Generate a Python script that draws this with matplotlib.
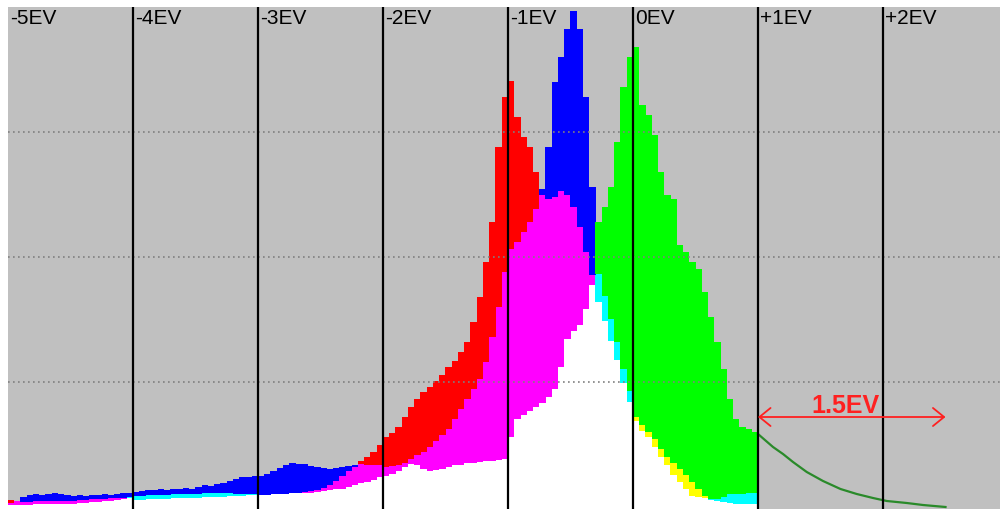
import numpy as np
import matplotlib
matplotlib.use("Agg")
import matplotlib.pyplot as plt

plt.rcParams['font.family'] = ['Liberation Sans', 'DejaVu Sans']

# --- histogram data: 0.05 EV bins from -5EV to +1EV ---
bin_start = -5.0
bin_width = 0.05

red = [
    7, 6, 5, 5, 6, 6, 6, 6, 6, 6, 6, 7, 7, 8, 8, 8, 9, 9, 9, 9,
    7, 7, 8, 8, 8, 8, 9, 9, 9, 9, 9, 10, 10, 10, 10, 11, 11, 11, 12, 12,
    12, 12, 13, 13, 13, 14, 14, 15, 16, 17, 19, 22, 26, 31, 36, 40, 46, 50, 55, 62,
    70, 74, 80, 90, 100, 108, 115, 120, 126, 132, 140, 146, 155, 165, 185, 210, 245, 285, 360, 410,
    426, 390, 370, 360, 335, 312, 308, 310, 316, 312, 300, 280, 255, 232, 205, 186, 166, 147, 124, 105,
    90, 82, 75, 68, 58, 50, 44, 38, 32, 25, 18, 11, 7, 6, 5, 4, 3, 3, 3, 3,
]
green = [
    2, 2, 2, 2, 3, 3, 3, 3, 3, 3, 3, 4, 4, 5, 5, 6, 6, 7, 8, 10,
    11, 11, 12, 12, 12, 12, 13, 13, 13, 13, 13, 14, 14, 14, 14, 14, 13, 13, 13, 13,
    12, 12, 13, 13, 13, 14, 14, 14, 14, 15, 16, 17, 18, 18, 20, 22, 24, 25, 27, 30,
    31, 33, 36, 40, 43, 42, 38, 36, 37, 38, 40, 42, 42, 44, 44, 45, 46, 46, 47, 48,
    70, 88, 92, 96, 100, 104, 110, 118, 140, 168, 176, 182, 198, 222, 285, 300, 320, 365, 420, 450,
    460, 402, 392, 372, 335, 312, 308, 262, 255, 245, 238, 215, 190, 165, 138, 108, 88, 80, 78, 75,
]
blue = [
    4, 6, 10, 12, 13, 12, 13, 14, 13, 12, 11, 12, 11, 12, 12, 13, 12, 13, 14, 14,
    15, 16, 17, 17, 18, 17, 18, 18, 19, 18, 20, 22, 21, 23, 24, 26, 28, 30, 30, 31,
    31, 33, 36, 39, 42, 44, 43, 43, 41, 40, 39, 38, 39, 40, 41, 42, 43, 42, 42, 42,
    40, 41, 42, 44, 48, 52, 55, 60, 66, 72, 78, 88, 98, 108, 118, 128, 145, 170, 200, 235,
    258, 265, 275, 285, 298, 318, 360, 425, 450, 478, 496, 478, 410, 320, 233, 211, 188, 165, 138, 116,
    86, 76, 70, 60, 50, 42, 32, 25, 18, 11, 10, 9, 8, 8, 10, 13, 13, 13, 14, 14,
]

# extrapolated green tail past +1EV
tail_ev = [1.0, 1.12, 1.2, 1.28, 1.39, 1.52, 1.66, 1.79, 1.92, 2.03, 2.19, 2.32, 2.5]
tail_h = [73, 60, 53, 45, 35, 26, 18, 13, 9, 6, 4, 2, 0]

ev_stops = [-5, -4, -3, -2, -1, 0, 1, 2]
ev_labels = ["-5EV", "-4EV", "-3EV", "-2EV", "-1EV", "0EV", "+1EV", "+2EV"]
span_text = "1.5EV"
span_from, span_to = 1.0, 2.5

fig = plt.figure(figsize=(10, 5.1), dpi=100, facecolor="white")
ax = fig.add_axes([0.008, 0.0, 0.992, 502 / 510])
ax.set_facecolor("#c0c0c0")
ax.set_xlim(-5, -5 + 992 / 125)
ax.set_ylim(-2, 500)
for s in ax.spines.values():
    s.set_visible(False)
ax.set_xticks([])
ax.set_yticks([])

# additive colour mixing of the three channels
chans = np.vstack([red, green, blue]).astype(float)
order = np.argsort(chans, axis=0)
srt = np.sort(chans, axis=0)
lo, mid, hi = srt[0], srt[1], srt[2]
centers = bin_start + bin_width * (np.arange(chans.shape[1]) + 0.5)
base = -2

mid_cols = []
top_cols = []
for i in range(chans.shape[1]):
    c = np.zeros(3)
    c[order[1, i]] = 1
    c[order[2, i]] = 1
    mid_cols.append(tuple(c))
    t = np.zeros(3)
    t[order[2, i]] = 1
    top_cols.append(tuple(t))

# slightly wider bars so neighbouring columns leave no seams
kw = dict(width=bin_width * 1.06, linewidth=0, antialiased=False, zorder=2)
ax.bar(centers, lo - base, bottom=base, color="white", **kw)
ax.bar(centers, mid - lo, bottom=lo, color=mid_cols, **kw)
ax.bar(centers, hi - mid, bottom=mid, color=top_cols, **kw)

ax.plot(tail_ev, tail_h, color="#2a8a2a", lw=1.6, zorder=3)

# grid
for gy in (125, 250, 375):
    ax.axhline(gy, color="#808080", lw=1.2, ls=(0, (1, 2)), zorder=4)
for ev, lab in zip(ev_stops, ev_labels):
    if ev > -5:
        ax.axvline(ev, color="black", lw=1.6, zorder=5)
    ax.text(ev + 0.016, 499, lab, fontsize=15, color="black",
            ha="left", va="top", zorder=6)

# span marker
ax.annotate("", xy=(span_from, 90), xytext=(span_to, 90),
            arrowprops=dict(arrowstyle="<->,head_length=0.8,head_width=0.65",
                            color="#ff2020", lw=1.3, shrinkA=0, shrinkB=0,
                            mutation_scale=10),
            zorder=6)
ax.text(1.696, 95, span_text, fontsize=18, fontweight="bold",
        color="#ff2020", ha="center", va="baseline", zorder=6)

fig.savefig("out.png", dpi=100, facecolor="white")
